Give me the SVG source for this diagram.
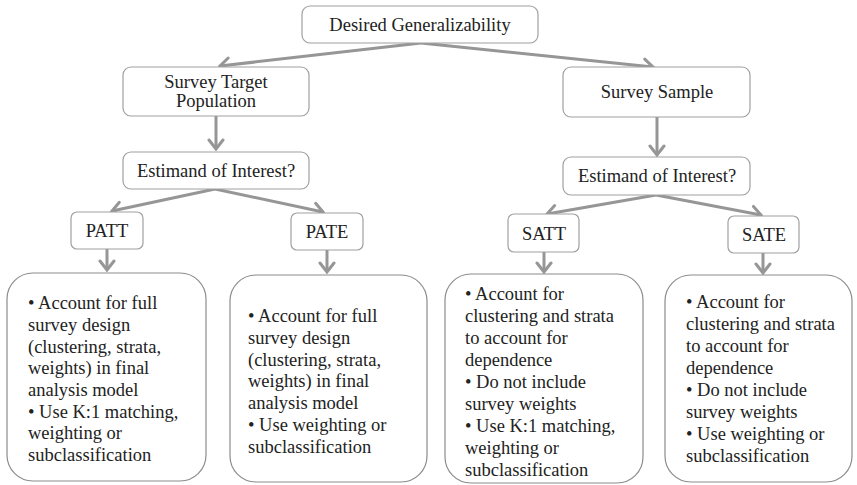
<svg xmlns="http://www.w3.org/2000/svg" width="857" height="485" viewBox="0 0 857 485">
<style>
.bx{fill:#fff;stroke:#a0a0a0;stroke-width:1.2}
.bb{fill:#fff;stroke:#8c8c8c;stroke-width:1.2}
.t{font-size:18.5px;fill:#222}
.c{text-anchor:middle}
.ar{fill:none;stroke:#969696;stroke-width:3}
</style>
<defs>
<marker id="ah" markerUnits="userSpaceOnUse" viewBox="-12 -9 14 18" markerWidth="14" markerHeight="18" refX="0" refY="0" orient="auto">
<path d="M-9,-7 L0,0 L-9,7" fill="none" stroke="#969696" stroke-width="3" stroke-linecap="round" stroke-linejoin="miter"/>
</marker>
</defs>
<rect width="857" height="485" fill="#fff"/>
<g id="connectors">
<line class="ar" x1="421" y1="43" x2="220" y2="66" marker-end="url(#ah)"/>
<line class="ar" x1="421" y1="43" x2="653" y2="67" marker-end="url(#ah)"/>
<line class="ar" x1="216" y1="116" x2="216" y2="149" marker-end="url(#ah)"/>
<line class="ar" x1="657" y1="117" x2="657" y2="155" marker-end="url(#ah)"/>
<line class="ar" x1="215" y1="189" x2="112" y2="211" marker-end="url(#ah)"/>
<line class="ar" x1="215" y1="189" x2="323" y2="212" marker-end="url(#ah)"/>
<line class="ar" x1="656" y1="195" x2="547" y2="214" marker-end="url(#ah)"/>
<line class="ar" x1="656" y1="195" x2="761" y2="215" marker-end="url(#ah)"/>
<line class="ar" x1="107" y1="249" x2="107" y2="270" marker-end="url(#ah)"/>
<line class="ar" x1="327" y1="250" x2="327" y2="272" marker-end="url(#ah)"/>
<line class="ar" x1="544" y1="252" x2="544" y2="272" marker-end="url(#ah)"/>
<line class="ar" x1="763" y1="253" x2="763" y2="273" marker-end="url(#ah)"/>
</g>
<g font-family="Liberation Serif, Times New Roman, serif">
<g id="desired">
<rect class="bx" x="302" y="6" width="236" height="37" rx="8"/>
<text class="t c" x="420" y="31">Desired Generalizability</text>
</g>
<g id="target">
<rect class="bx" x="123" y="67" width="186" height="49" rx="8"/>
<text class="t c" x="216" y="88">Survey Target</text>
<text class="t c" x="216" y="107">Population</text>
</g>
<g id="sample">
<rect class="bx" x="563" y="67" width="187" height="50" rx="8"/>
<text class="t c" x="657" y="98">Survey Sample</text>
</g>
<g id="estimand1">
<rect class="bx" x="123" y="152" width="186" height="37" rx="8"/>
<text class="t c" x="216" y="177">Estimand of Interest?</text>
</g>
<g id="estimand2">
<rect class="bx" x="563" y="157" width="187" height="38" rx="8"/>
<text class="t c" x="657" y="182">Estimand of Interest?</text>
</g>
<g id="patt">
<rect class="bx" x="71" y="212" width="72" height="37" rx="6"/>
<text class="t c" x="107" y="237">PATT</text>
</g>
<g id="pate">
<rect class="bx" x="291" y="213" width="72" height="37" rx="6"/>
<text class="t c" x="327" y="238">PATE</text>
</g>
<g id="satt">
<rect class="bx" x="508" y="214" width="71" height="38" rx="6"/>
<text class="t c" x="544" y="240">SATT</text>
</g>
<g id="sate">
<rect class="bx" x="728" y="216" width="71" height="37" rx="6"/>
<text class="t c" x="764" y="241">SATE</text>
</g>
<g id="patt-box">
<rect class="bb" x="7" y="273" width="199" height="208" rx="26"/>
<text class="t" x="28" y="309">•  Account for full</text>
<text class="t" x="28" y="331">survey design</text>
<text class="t" x="28" y="353">(clustering, strata,</text>
<text class="t" x="28" y="374">weights) in final</text>
<text class="t" x="28" y="396">analysis model</text>
<text class="t" x="28" y="418">•  Use K:1 matching,</text>
<text class="t" x="28" y="439">weighting or</text>
<text class="t" x="28" y="461">subclassification</text>
</g>
<g id="pate-box">
<rect class="bb" x="230" y="275" width="197" height="207" rx="26"/>
<text class="t" x="248" y="322">•  Account for full</text>
<text class="t" x="248" y="344">survey design</text>
<text class="t" x="248" y="366">(clustering, strata,</text>
<text class="t" x="248" y="387">weights) in final</text>
<text class="t" x="248" y="409">analysis model</text>
<text class="t" x="248" y="431">•  Use weighting or</text>
<text class="t" x="248" y="453">subclassification</text>
</g>
<g id="satt-box">
<rect class="bb" x="445" y="274" width="198" height="209" rx="26"/>
<text class="t" x="465" y="300">•  Account for</text>
<text class="t" x="465" y="322">clustering and strata</text>
<text class="t" x="465" y="344">to account for</text>
<text class="t" x="465" y="366">dependence</text>
<text class="t" x="465" y="388">•  Do not include</text>
<text class="t" x="465" y="410">survey weights</text>
<text class="t" x="465" y="432">•  Use K:1 matching,</text>
<text class="t" x="465" y="454">weighting or</text>
<text class="t" x="465" y="476">subclassification</text>
</g>
<g id="sate-box">
<rect class="bb" x="665" y="275" width="187" height="207" rx="26"/>
<text class="t" x="686" y="308">•  Account for</text>
<text class="t" x="686" y="330">clustering and strata</text>
<text class="t" x="686" y="352">to account for</text>
<text class="t" x="686" y="374">dependence</text>
<text class="t" x="686" y="396">•  Do not include</text>
<text class="t" x="686" y="418">survey weights</text>
<text class="t" x="686" y="440">•  Use weighting or</text>
<text class="t" x="686" y="462">subclassification</text>
</g>
</g>
</svg>
